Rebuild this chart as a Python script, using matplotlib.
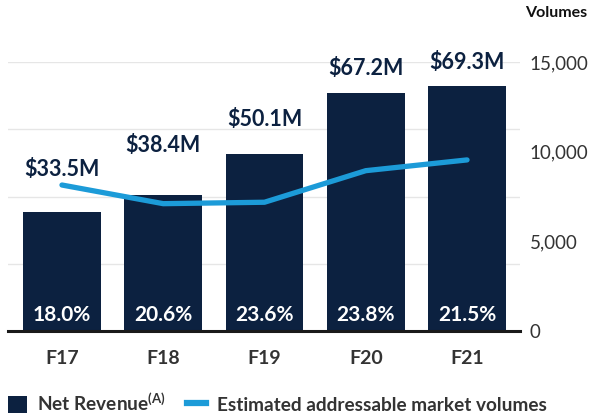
import matplotlib
matplotlib.use("Agg")
import matplotlib.pyplot as plt
from matplotlib.patches import Patch
from matplotlib.lines import Line2D
from matplotlib.ticker import FuncFormatter

# ---- data ----
years = ["F17", "F18", "F19", "F20", "F21"]
net_revenue = [33.5, 38.4, 50.1, 67.2, 69.3]          # $M
revenue_labels = ["$33.5M", "$38.4M", "$50.1M", "$67.2M", "$69.3M"]
margin_labels = ["18.0%", "20.6%", "23.6%", "23.8%", "21.5%"]
market_volumes = [8140, 7100, 7180, 8940, 9540]
volume_ticks = [0, 5000, 10000, 15000]

# ---- style ----
NAVY = "#0c2140"
BLUE = "#1c9bd8"
GREY_TXT = "#333333"
GRID = "#e6e6e6"
label_offsets_pt = [26.5, 31, 20, 13, 12]  # gap above bars for revenue labels

plt.rcParams["font.family"] = ["Lato", "DejaVu Sans"]
plt.rcParams["mathtext.fontset"] = "custom"
plt.rcParams["mathtext.rm"] = "Lato:bold"
plt.rcParams["mathtext.bf"] = "Lato:bold"
plt.rcParams["mathtext.default"] = "bf"

fig = plt.figure(figsize=(5.9, 4.17), dpi=100)
ax = fig.add_axes([8 / 590, 86 / 417, 512 / 590, 269 / 417])

x = list(range(len(years)))
bars = ax.bar(x, net_revenue, width=0.77, color=NAVY, zorder=2)

rev_max = 76
ax.set_ylim(0, rev_max)
ax.set_yticks([rev_max * i / 4 for i in range(5)])
ax.yaxis.grid(True, color=GRID, linewidth=1.0)
ax.set_axisbelow(True)
ax.set_xlim(-0.533, 4.523)
ax.set_xticks(x)
ax.set_xticklabels(years, fontsize=14, fontweight="bold", color=GREY_TXT)
ax.tick_params(axis="x", length=0, pad=14)
for s in ["top", "left", "right"]:
    ax.spines[s].set_visible(False)
ax.spines["bottom"].set_color("#1a1a1a")
ax.spines["bottom"].set_linewidth(2.2)
ax.spines["bottom"].set_zorder(5)

for xi, v, lab, off in zip(x, net_revenue, revenue_labels, label_offsets_pt):
    ax.annotate(lab, (xi, v), xytext=(0, off), textcoords="offset points",
                ha="center", va="baseline", fontsize=15.5, fontweight="bold",
                color=NAVY, zorder=6)
for xi, lab in zip(x, margin_labels):
    ax.annotate(lab, (xi, 0), xytext=(0, 7), textcoords="offset points",
                ha="center", va="baseline", fontsize=15, fontweight="bold",
                color="white", zorder=6)

ax2 = ax.twinx()
ax2.plot(x, market_volumes, color=BLUE, linewidth=3.8, solid_capstyle="round",
         solid_joinstyle="round", zorder=4)
ax2.set_ylim(0, 15000)
ax2.set_yticks(volume_ticks)
ax2.yaxis.set_major_formatter(FuncFormatter(lambda v, p: f"{int(v):,}"))
ax2.tick_params(axis="y", left=False, right=False, length=0, pad=7,
                labelsize=13.5, labelcolor=GREY_TXT)
for s in ax2.spines.values():
    s.set_visible(False)
ax.tick_params(axis="y", left=False, right=False, labelleft=False, length=0)

fig.text(587 / 590, 1 - 17 / 417, "Volumes", ha="right", va="baseline",
         fontsize=11.5, fontweight="bold", color="#111111")

handles = [Patch(facecolor=NAVY, edgecolor="none"),
           Line2D([0], [0], color=BLUE, linewidth=4.5)]
labels = ["Net Revenue$^{(A)}$", "Estimated addressable market volumes"]
leg = fig.legend(handles, labels, loc="center left",
                 bbox_to_anchor=(8 / 590, 1 - 403 / 417),
                 ncol=2, frameon=False, handlelength=1.0, handleheight=1.05,
                 handletextpad=0.55, columnspacing=1.1,
                 borderpad=0, borderaxespad=0,
                 prop={"weight": "bold", "size": 13.7})
for t in leg.get_texts():
    t.set_color(GREY_TXT)

fig.savefig("out.png", dpi=100)
